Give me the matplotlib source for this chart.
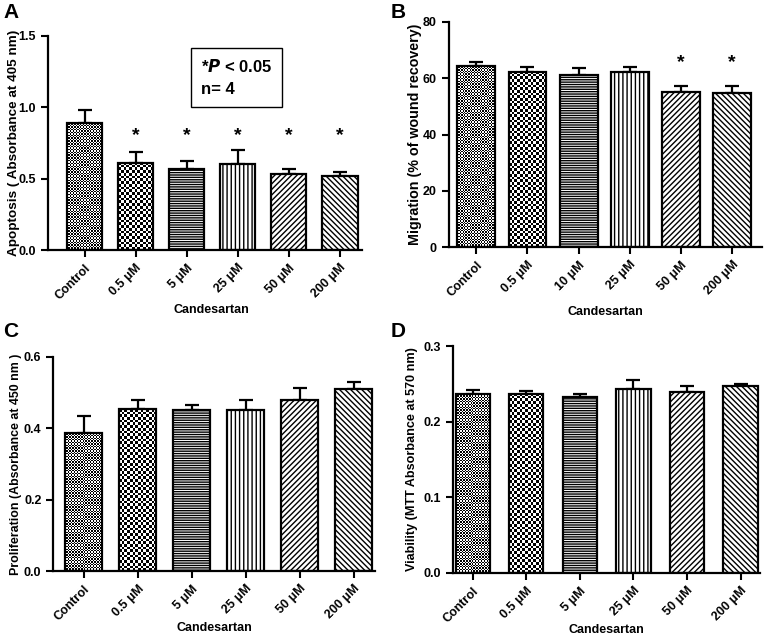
import numpy as np
import matplotlib
matplotlib.use('Agg')
import matplotlib.pyplot as plt
from matplotlib.ticker import FormatStrFormatter

plt.rcParams['font.family'] = ['Liberation Sans', 'DejaVu Sans']
plt.rcParams['font.weight'] = 'bold'
plt.rcParams['axes.labelweight'] = 'bold'

# data
groups_a = ['Control', '0.5 μM', '5 μM', '25 μM', '50 μM', '200 μM']
groups_b = ['Control', '0.5 μM', '10 μM', '25 μM', '50 μM', '200 μM']

apoptosis = [0.893, 0.613, 0.571, 0.606, 0.534, 0.520]
apoptosis_err = [0.090, 0.075, 0.052, 0.094, 0.037, 0.028]
apoptosis_sig = [False, True, True, True, True, True]

migration = [64.4, 62.3, 61.3, 62.1, 55.1, 54.6]
migration_err = [1.4, 1.7, 2.3, 1.8, 2.3, 2.8]
migration_sig = [False, False, False, False, True, True]

proliferation = [0.388, 0.453, 0.452, 0.451, 0.478, 0.509]
proliferation_err = [0.047, 0.025, 0.012, 0.028, 0.035, 0.020]

viability = [0.236, 0.2367, 0.232, 0.243, 0.2398, 0.247]
viability_err = [0.0055, 0.004, 0.004, 0.0117, 0.007, 0.0033]

# fill style per bar: checker cell size in px, or a hatch string
fills = [('checker', 1.4), ('checker', 2.7), ('hatch', '-------'),
         ('hatch', '||||'), ('hatch', '//////'), ('hatch', '\\\\\\\\\\\\')]


def checker_fill(ax, bar, cell):
    # paint a black/white checkerboard clipped to the bar
    x0, y0 = bar.get_x(), 0
    x1, y1 = bar.get_x() + bar.get_width(), bar.get_height()
    (px0, py0), (px1, py1) = ax.transData.transform([(x0, y0), (x1, y1)])
    nx = max(1, int(round((px1 - px0) / cell)))
    ny = max(1, int(round((py1 - py0) / cell)))
    grid = (np.add.outer(np.arange(ny), np.arange(nx)) % 2).astype(float)
    im = ax.imshow(grid, cmap='gray', vmin=0, vmax=1, extent=(x0, x1, y0, y1),
                   interpolation='nearest', aspect='auto', zorder=1.5)
    im.set_clip_path(bar)


def draw_panel(ax, labels, vals, errs, ylim, yticks, ylabel, ylabel_size,
               width, xlim, sig=None, star_y=None):
    x = list(range(len(vals)))
    ax.set_ylim(*ylim)
    ax.set_xlim(*xlim)
    bars = ax.bar(x, vals, width=width, color='white', edgecolor='black',
                  linewidth=1.6, zorder=2)
    for b, (kind, spec) in zip(bars, fills):
        if kind == 'hatch':
            b.set_hatch(spec)
        else:
            b.set_facecolor('none')
            checker_fill(ax, b, spec)
    ax.errorbar(x, vals, yerr=[[0] * len(vals), errs], fmt='none',
                ecolor='black', elinewidth=1.6, capsize=5, capthick=1.6,
                zorder=1)
    if sig is not None:
        for xi, s in zip(x, sig):
            if s:
                ax.text(xi, star_y, '*', ha='center', va='center',
                        fontsize=14, fontweight='bold')
    ax.set_yticks(yticks)
    ax.set_xticks(x)
    ax.set_xticklabels(labels, rotation=45, ha='right',
                       rotation_mode='anchor', fontsize=9)
    ax.tick_params(axis='y', labelsize=9, width=1.5, length=5)
    ax.tick_params(axis='x', width=1.5, length=5)
    for sp in ['top', 'right']:
        ax.spines[sp].set_visible(False)
    for sp in ['left', 'bottom']:
        ax.spines[sp].set_linewidth(1.6)
    ax.set_ylabel(ylabel, fontsize=ylabel_size)
    ax.set_xlabel('Candesartan', fontsize=9)


fig = plt.figure(figsize=(7.71, 6.37), dpi=100)

ax_a = fig.add_axes([0.062, 0.6075, 0.408, 0.336])
draw_panel(ax_a, groups_a, apoptosis, apoptosis_err, (0, 1.5),
           [0.0, 0.5, 1.0, 1.5], 'Apoptosis ( Absorbance at 405 nm)', 9.7,
           0.69, (-0.72, 5.44), apoptosis_sig, 0.80)
ax_a.yaxis.set_major_formatter(FormatStrFormatter('%.1f'))
ax_a.yaxis.set_label_coords(-0.089, 0.5)
ax_a.xaxis.set_label_coords(0.52, -0.252)

ax_b = fig.add_axes([0.582, 0.6122, 0.406, 0.3533])
draw_panel(ax_b, groups_b, migration, migration_err, (0, 80),
           [0, 20, 40, 60, 80], 'Migration (% of wound recovery)', 10.3,
           0.74, (-0.54, 5.58), migration_sig, 65.5)
ax_b.yaxis.set_label_coords(-0.086, 0.5)
ax_b.xaxis.set_label_coords(0.5, -0.262)

ax_c = fig.add_axes([0.069, 0.1036, 0.418, 0.336])
draw_panel(ax_c, groups_a, proliferation, proliferation_err, (0, 0.6),
           [0.0, 0.2, 0.4, 0.6], 'Proliferation (Absorbance at 450 nm )', 8.9,
           0.685, (-0.565, 5.4))
ax_c.yaxis.set_major_formatter(FormatStrFormatter('%.1f'))
ax_c.yaxis.set_label_coords(-0.096, 0.5)
ax_c.xaxis.set_label_coords(0.5, -0.238)

ax_d = fig.add_axes([0.5875, 0.1005, 0.398, 0.3563])
draw_panel(ax_d, groups_a, viability, viability_err, (0, 0.3),
           [0.0, 0.1, 0.2, 0.3], 'Viability (MTT Absorbance at 570 nm)', 9.1,
           0.64, (-0.37, 5.36))
ax_d.yaxis.set_major_formatter(FormatStrFormatter('%.1f'))
ax_d.yaxis.set_label_coords(-0.114, 0.5)
ax_d.xaxis.set_label_coords(0.5, -0.224)

# panel letters
fig.text(0.004, 0.995, 'A', fontsize=15, fontweight='bold', va='top')
fig.text(0.506, 0.995, 'B', fontsize=15, fontweight='bold', va='top')
fig.text(0.004, 0.495, 'C', fontsize=15, fontweight='bold', va='top')
fig.text(0.506, 0.495, 'D', fontsize=15, fontweight='bold', va='top')

# significance box in panel A
fig.text(0.307, 0.878, '*$\\boldsymbol{P}$ < 0.05\nn= 4', fontsize=12,
         fontweight='bold', ha='center', va='center', ma='left',
         linespacing=1.6,
         bbox=dict(boxstyle='square,pad=0.6', facecolor='white',
                   edgecolor='black', linewidth=1.0))

plt.savefig('out.png', dpi=100)
